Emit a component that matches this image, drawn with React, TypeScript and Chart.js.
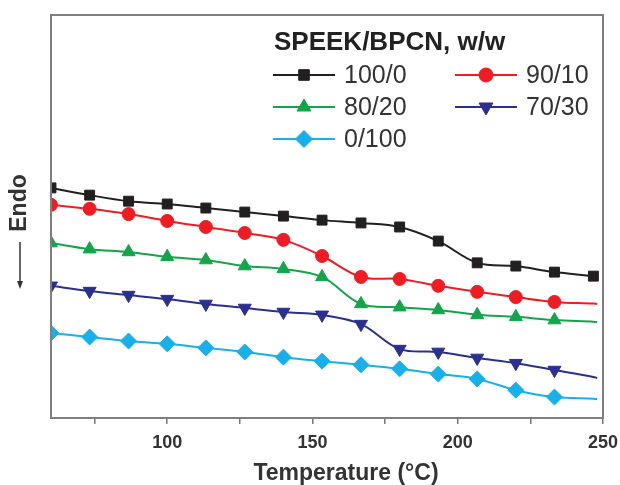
import React, { useEffect, useRef } from 'react';
import { Chart, registerables } from 'chart.js';
import { drawPoint } from 'chart.js/helpers';

Chart.register(...registerables);

// Temperature (°C) of each sampled point; the last one is the end of each trace (no marker)
const temperatures = [60, 73.3, 86.7, 100, 113.3, 126.7, 140, 153.3, 166.7, 180, 193.3, 206.7, 220, 233.3, 246.7, 248];

// Heat flow (arbitrary units, Endo down)
const speek100_0 = [5.71, 5.53, 5.38, 5.31, 5.21, 5.11, 5.01, 4.91, 4.84, 4.74, 4.39, 3.85, 3.77, 3.62, 3.52, 3.50];
const speek90_10 = [5.29, 5.19, 5.06, 4.89, 4.74, 4.59, 4.42, 4.02, 3.50, 3.45, 3.28, 3.13, 3.00, 2.88, 2.84, 2.83];
const speek80_20 = [4.34, 4.19, 4.12, 4.00, 3.92, 3.77, 3.70, 3.50, 2.83, 2.75, 2.68, 2.56, 2.51, 2.43, 2.39, 2.38];
const speek70_30 = [3.28, 3.15, 3.05, 2.95, 2.83, 2.73, 2.63, 2.56, 2.33, 1.71, 1.64, 1.49, 1.36, 1.19, 1.02, 0.99];
const speek0_100 = [2.11, 2.01, 1.91, 1.84, 1.74, 1.64, 1.51, 1.41, 1.32, 1.22, 1.09, 0.97, 0.69, 0.52, 0.48, 0.47];

// number of leading points of each trace that carry a marker
const markedCounts = [15, 14, 14, 14, 14];

const seriesLabels = ['100/0', '90/10', '80/20', '70/30', '0/100'];
const seriesData = [speek100_0, speek90_10, speek80_20, speek70_30, speek0_100];

const xTickValues = [75, 100, 125, 150, 175, 200, 225, 250];
const xTickLabels = [100, 150, 200, 250];

const legendTitle = 'SPEEK/BPCN, w/w';
const xTitle = 'Temperature (°C)';
const yTitle = 'Endo';

const styles = [
  { color: '#231f20', pointStyle: 'rect', radius: 7, rotation: 0 },
  { color: '#f01c24', pointStyle: 'circle', radius: 6.5, rotation: 0 },
  { color: '#13a54a', pointStyle: 'triangle', radius: 7.5, rotation: 0 },
  { color: '#2b2f8f', pointStyle: 'triangle', radius: 7.5, rotation: 180 },
  { color: '#18b0ea', pointStyle: 'rectRot', radius: 8, rotation: 0 },
];

const FONT = '"Liberation Sans", Arial, Helvetica, sans-serif';

const overlayPlugin = {
  id: 'overlay',
  afterDatasetsDraw(chart: any) {
    const ctx = chart.ctx;
    const a = chart.chartArea;
    ctx.save();
    ctx.strokeStyle = '#7f7f7f';
    ctx.lineWidth = 2;
    ctx.strokeRect(a.left, a.top, a.right - a.left, a.bottom - a.top);
    ctx.restore();
  },
  afterDraw(chart: any) {
    const ctx = chart.ctx;
    ctx.save();
    ctx.textBaseline = 'middle';
    ctx.textAlign = 'left';
    ctx.fillStyle = '#222';
    ctx.font = `bold 26px ${FONT}`;
    ctx.fillText(legendTitle, 274, 43);
    const places = [
      [273, 75], [455, 75], [273, 107], [455, 107], [273, 139],
    ];
    seriesLabels.forEach((lab, i) => {
      const [x, y] = places[i];
      const st = styles[i];
      ctx.strokeStyle = st.color;
      ctx.fillStyle = st.color;
      ctx.lineWidth = 2;
      ctx.beginPath();
      ctx.moveTo(x, y);
      ctx.lineTo(x + 62, y);
      ctx.stroke();
      ctx.lineWidth = 1;
      drawPoint(ctx, { pointStyle: st.pointStyle as any, radius: st.radius + 0.5, rotation: st.rotation, borderWidth: 1 } as any, x + 31, y);
      ctx.fillStyle = '#333';
      ctx.font = `25px ${FONT}`;
      ctx.fillText(lab, x + 71, y + 1);
    });
    ctx.fillStyle = '#333';
    ctx.font = `bold 23px ${FONT}`;
    ctx.textAlign = 'center';
    ctx.fillText(xTitle, 346, 474);
    ctx.save();
    ctx.translate(20, 203);
    ctx.rotate(-Math.PI / 2);
    ctx.font = `bold 23px ${FONT}`;
    ctx.fillText(yTitle, 0, 0);
    ctx.restore();
    ctx.strokeStyle = '#333';
    ctx.fillStyle = '#333';
    ctx.lineWidth = 1.5;
    ctx.beginPath();
    ctx.moveTo(20, 242);
    ctx.lineTo(20, 284);
    ctx.stroke();
    ctx.beginPath();
    ctx.moveTo(17, 281);
    ctx.lineTo(23, 281);
    ctx.lineTo(20, 289);
    ctx.closePath();
    ctx.fill();
    ctx.restore();
  },
};

export default function App() {
  const ref = useRef<HTMLCanvasElement | null>(null);
  useEffect(() => {
    if (!ref.current) return;
    const datasets = seriesData.map((vals, i) => {
      const st = styles[i];
      const marked = markedCounts[i];
      return {
        label: seriesLabels[i],
        data: temperatures.map((t, k) => ({ x: t, y: vals[k] })),
        borderColor: st.color,
        backgroundColor: st.color,
        borderWidth: 2,
        tension: 0.35,
        pointStyle: st.pointStyle as any,
        rotation: st.rotation,
        pointRadius: (c: any) => (c.dataIndex < marked ? st.radius : 0),
        pointBackgroundColor: st.color,
        pointBorderColor: st.color,
        pointBorderWidth: 1,
        fill: false,
      };
    });
    const chart = new Chart(ref.current, {
      type: 'line',
      data: { datasets },
      plugins: [overlayPlugin],
      options: {
        animation: false,
        responsive: false,
        maintainAspectRatio: false,
        layout: { padding: { top: 15, right: 17, left: 0, bottom: 0 } },
        plugins: { legend: { display: false }, tooltip: { enabled: false } },
        scales: {
          x: {
            type: 'linear',
            min: 60,
            max: 250,
            position: 'bottom',
            afterBuildTicks: (s: any) => {
              s.ticks = xTickValues.map((v) => ({ value: v }));
            },
            afterFit: (s: any) => {
              s.height = 67;
              s.paddingLeft = 0;
              s.paddingRight = 0;
            },
            border: { display: false },
            grid: {
              display: true,
              drawOnChartArea: false,
              drawTicks: true,
              tickLength: 6,
              color: '#777',
              lineWidth: 1.5,
            },
            ticks: {
              autoSkip: false,
              maxRotation: 0,
              padding: 8,
              color: '#333',
              font: { family: FONT, size: 18, weight: 'bold' },
              callback: (v: any) => (xTickLabels.includes(Number(v)) ? String(v) : ''),
            },
          },
          y: {
            type: 'linear',
            min: 0,
            max: 10,
            afterFit: (s: any) => {
              s.width = 51;
              s.paddingTop = 0;
              s.paddingBottom = 0;
            },
            border: { display: false },
            grid: { display: false, drawTicks: false },
            ticks: { display: false },
          },
        },
      },
    });
    return () => chart.destroy();
  }, []);
  return (
    <div style={{ position: 'absolute', left: 0, top: 0, width: 620, height: 485, background: '#fff' }}>
      <canvas ref={ref} width={620} height={485} style={{ width: 620, height: 485 }} />
    </div>
  );
}
